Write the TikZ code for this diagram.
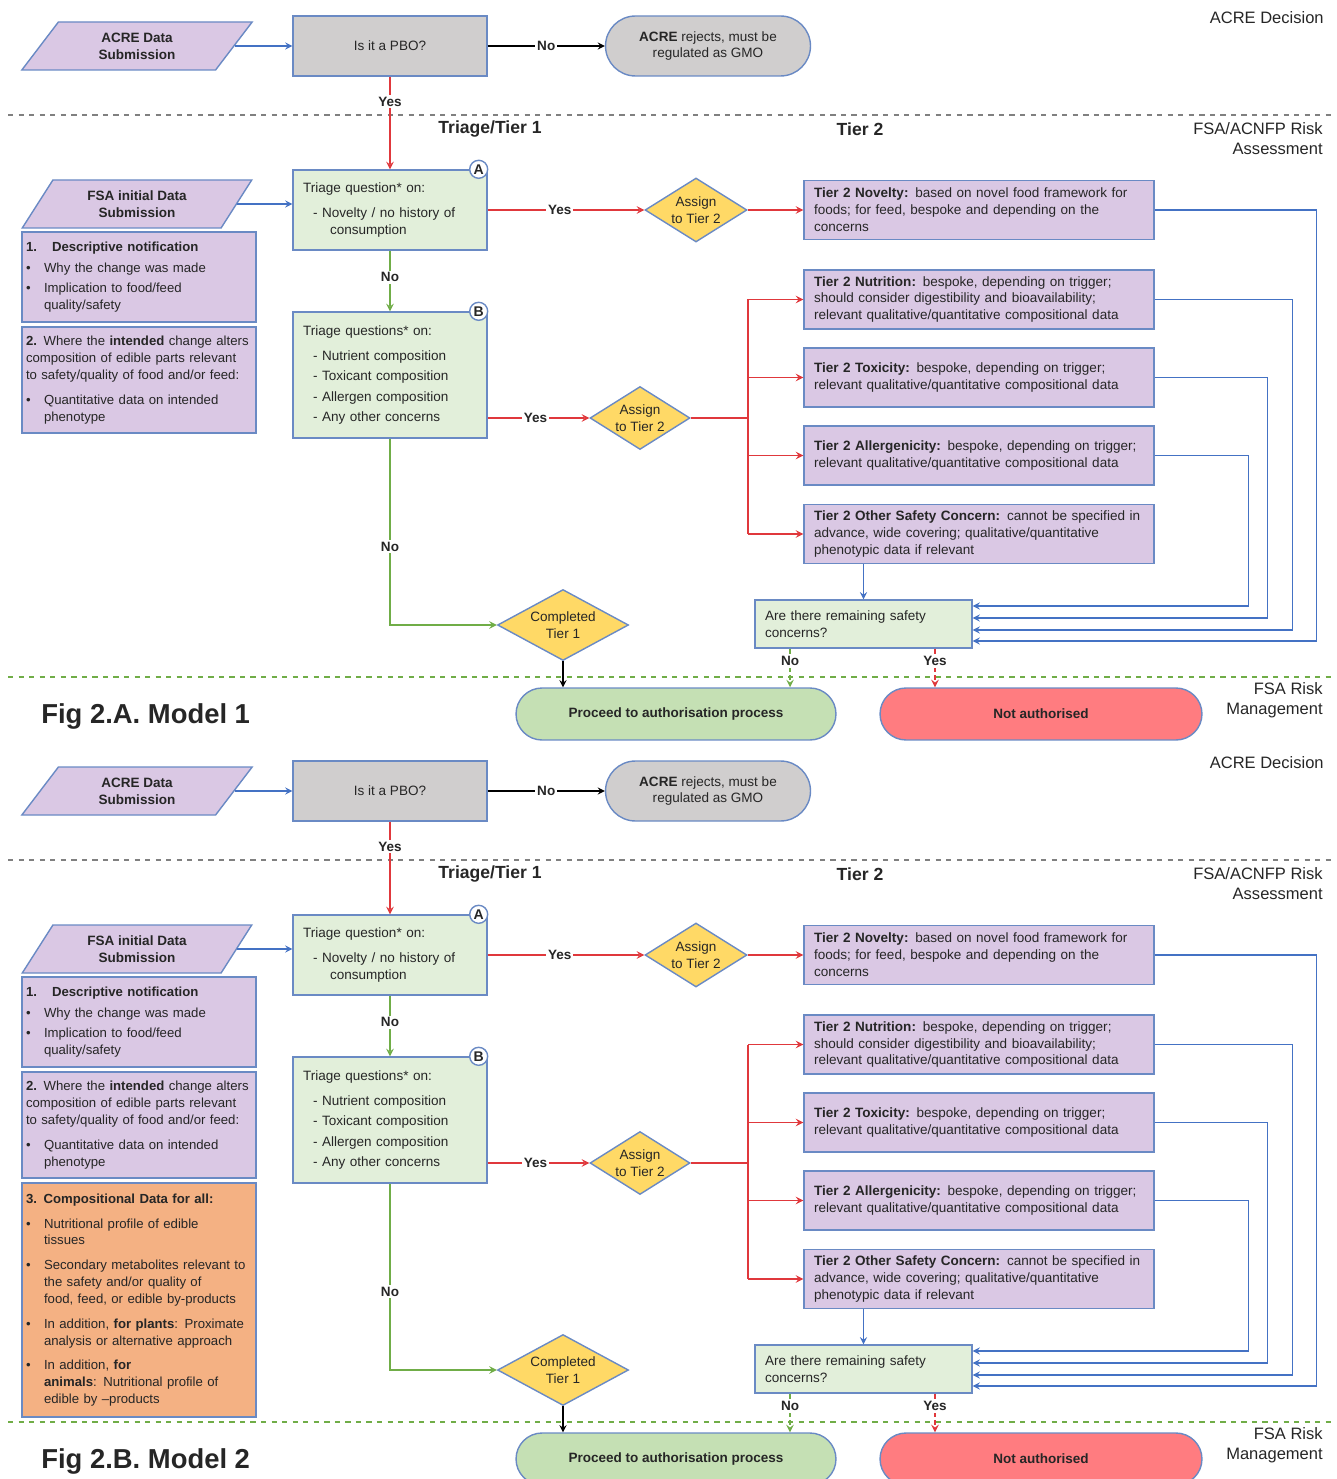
\documentclass[tikz,border=0pt]{standalone}
\usepackage{fontspec}
\setmainfont{Liberation Sans}
\usetikzlibrary{shapes.geometric}
\usepgflibrary{arrows}

\definecolor{lavfill}{HTML}{DAC8E4}
\definecolor{bord}{HTML}{6A8AC4}
\definecolor{greyfill}{HTML}{D0CECE}
\definecolor{grnfill}{HTML}{E2EFDA}
\definecolor{yelfill}{HTML}{FFD966}
\definecolor{okfill}{HTML}{C5E0B4}
\definecolor{nofill}{HTML}{FF7C80}
\definecolor{orgfill}{HTML}{F4B183}
\definecolor{redln}{HTML}{E0383C}
\definecolor{grnln}{HTML}{70AD47}
\definecolor{blueln}{HTML}{4472C4}
\definecolor{txt}{HTML}{262626}

\newcommand{\smalltxt}{\fontsize{7.7}{9.6}\selectfont}
\newcommand{\infotxt}{\fontsize{7.5}{9.6}\selectfont}
\newcommand{\sidetxt}{\fontsize{9.4}{11.3}\selectfont}
\newcommand{\bitem}[2][2.5pt]{\par\vspace{#1}\hangindent=0.36cm\hangafter=1\noindent\makebox[0.36cm][l]{\textbullet}#2\par}

\tikzset{
  subm/.style={trapezium, trapezium left angle=56, trapezium right angle=124,
    trapezium stretches=true, draw=bord, fill=lavfill, line width=0.8pt,
    minimum width=4.62cm, minimum height=0.96cm, inner sep=0pt, align=center,
    font=\smalltxt\bfseries},
  greybox/.style={draw=bord, fill=greyfill, line width=0.8pt,
    minimum width=3.88cm, minimum height=1.2cm, font=\smalltxt},
  endcap/.style={draw=bord, line width=0.8pt, rounded corners=0.52cm,
    minimum height=1.04cm, align=center, font=\smalltxt\bfseries},
  tribox/.style={draw=bord, fill=grnfill, line width=0.8pt, text width=3.48cm,
    inner xsep=0.2cm, align=left, font=\smalltxt},
  infobox/.style={draw=bord, fill=lavfill, line width=0.8pt, text width=4.52cm,
    inner xsep=0.08cm, align=left, font=\infotxt},
  tierbox/.style={draw=bord, fill=lavfill, line width=0.8pt, text width=6.6cm,
    inner xsep=0.2cm, minimum height=1.18cm, align=left, font=\smalltxt},
  choice/.style={diamond, aspect=1.6, draw=bord, fill=yelfill, line width=0.8pt,
    inner sep=0pt, align=center, font=\smalltxt},
  lettertag/.style={circle, draw=bord, fill=white, line width=0.8pt,
    minimum size=0.36cm, inner sep=0pt, font=\fontsize{8}{8}\selectfont\bfseries},
  lbl/.style={fill=white, inner sep=1pt, font=\smalltxt\bfseries},
  sidelabel/.style={align=right, inner xsep=0pt, font=\sidetxt},
  colhead/.style={font=\fontsize{10}{12}\selectfont\bfseries},
  yesarr/.style={draw=redln, line width=0.9pt, -stealth},
  noarr/.style={draw=grnln, line width=0.9pt, -stealth},
  fbarr/.style={draw=blueln, line width=0.8pt, -stealth},
  blackarr/.style={draw=black, line width=0.8pt, -stealth},
}

\begin{document}
\begin{tikzpicture}[x=0.02cm, y=-0.02cm, every node/.style={text=txt}]

\useasboundingbox (0,0) rectangle (1336,1479);

\foreach \ml/\mn/\dy in {A/1/0, B/2/745} {
\begin{scope}[shift={(0,\dy)}]

% bands
\draw[gray, dashed, line width=0.8pt] (8,115) -- (1336,115);
\draw[grnln, dashed, line width=0.8pt] (8,677) -- (1336,677);
\node[sidelabel, anchor=east] (acd\ml) at (1324,18) {ACRE Decision};
\node[sidelabel, anchor=north east] (ra\ml) at (1323,116) {FSA/ACNFP Risk\\Assessment};
\node[sidelabel, anchor=north east] (rm\ml) at (1323,676) {FSA Risk\\Management};
\node[colhead] (t1h\ml) at (490,129) {Triage/Tier 1};
\node[colhead] (t2h\ml) at (860,129) {Tier 2};
\node[anchor=west, inner sep=0pt, font=\fontsize{15.6}{18}\selectfont\bfseries] (fig\ml) at (41,716) {Fig 2.\ml. Model \mn};

% ACRE step
\node[subm] (acre\ml) at (137,46) {ACRE Data\\Submission};
\node[greybox] (pbo\ml) at (390,46) {Is it a PBO?};
\node[endcap, fill=greyfill, minimum width=4.1cm, minimum height=1.2cm,
  rounded corners=0.6cm, font=\smalltxt] (rej\ml) at (708,46)
  {\textbf{ACRE} rejects, must be\\regulated as GMO};

% triage
\node[subm] (fsa\ml) at (137,204) {FSA initial Data\\Submission};
\node[infobox, minimum height=1.8cm] (desc\ml) at (139,277)
  {\textbf{1.\hspace{0.3cm}Descriptive notification}
   \bitem{Why the change was made}
   \bitem[2pt]{Implication to food/feed\newline quality/safety}};
\node[infobox, minimum height=2.12cm] (chg\ml) at (139,380)
  {\textbf{2.} Where the \textbf{intended} change alters\newline
   composition of edible parts relevant\newline
   to safety/quality of food and/or feed:
   \bitem[4.5pt]{Quantitative data on intended\newline phenotype}};
\ifnum\mn=2
\node[infobox, fill=orgfill, minimum height=4.68cm] (comp\ml) at (139,555)
  {\textbf{3. Compositional Data for all:}
   \bitem[4.5pt]{Nutritional profile of edible\newline tissues}
   \bitem[4.5pt]{Secondary metabolites relevant to\newline the safety and/or quality of\newline food, feed, or edible by-products}
   \bitem[4.5pt]{In addition, \textbf{for plants}: Proximate\newline analysis or alternative approach}
   \bitem[4.5pt]{In addition, \textbf{for}\newline \textbf{animals}: Nutritional profile of\newline edible by --products}};
\fi
\node[tribox, minimum height=1.6cm] (triA\ml) at (390,210)
  {Triage question* on:\\[5pt]
   \hspace*{0.2cm}- Novelty / no history of\\
   \hspace*{0.54cm}consumption};
\node[tribox, minimum height=2.52cm] (triB\ml) at (390,375)
  {Triage questions* on:\\[4.5pt]
   \hspace*{0.2cm}- Nutrient composition\\[2pt]
   \hspace*{0.2cm}- Toxicant composition\\[2pt]
   \hspace*{0.2cm}- Allergen composition\\[2pt]
   \hspace*{0.2cm}- Any other concerns};
\node[lettertag] (cA\ml) at ([xshift=-0.18cm]triA\ml.north east) {A};
\node[lettertag] (cB\ml) at ([xshift=-0.18cm]triB\ml.north east) {B};
\node[choice, minimum width=2.04cm, minimum height=1.28cm] (asgA\ml) at (696,210) {Assign\\to Tier 2};
\node[choice, minimum width=2.0cm, minimum height=1.26cm] (asgB\ml) at (640,418) {Assign\\to Tier 2};
\node[choice, minimum width=2.62cm, minimum height=1.42cm] (done\ml) at (563,625) {Completed\\Tier 1};
\coordinate (split\ml) at (748,418);

% tier 2
\node[tierbox] (tN\ml) at (979,210)
  {\textbf{Tier 2 Novelty:} based on novel food framework for\\
   foods; for feed, bespoke and depending on the\\ concerns};
\node[tierbox] (tNu\ml) at (979,299.5)
  {\textbf{Tier 2 Nutrition:} bespoke, depending on trigger;\\
   should consider digestibility and bioavailability;\\
   relevant qualitative/quantitative compositional data};
\node[tierbox] (tT\ml) at (979,377.5)
  {\textbf{Tier 2 Toxicity:} bespoke, depending on trigger;\\
   relevant qualitative/quantitative compositional data};
\node[tierbox] (tA\ml) at (979,455.5)
  {\textbf{Tier 2 Allergenicity:} bespoke, depending on trigger;\\
   relevant qualitative/quantitative compositional data};
\node[tierbox] (tO\ml) at (979,534)
  {\textbf{Tier 2 Other Safety Concern:} cannot be specified in\\
   advance, wide covering; qualitative/quantitative\\
   phenotypic data if relevant};
\node[tribox, text width=3.94cm, minimum height=0.96cm] (rem\ml) at (863.5,624)
  {Are there remaining safety\\concerns?};

% outcomes
\node[endcap, fill=okfill, minimum width=6.4cm] (go\ml) at (676,714) {Proceed to authorisation process};
\node[endcap, fill=nofill, minimum width=6.44cm] (stop\ml) at (1041,714) {Not authorised};

% connectors
\draw[fbarr] (acre\ml.east) -- (acre\ml.east -| pbo\ml.west);
\draw[blackarr] (pbo\ml.east) -- node[lbl]{No} (rej\ml.west);
\draw[yesarr] (pbo\ml.south) -- node[lbl, pos=0.27]{Yes} (triA\ml.north);
\draw[fbarr] (fsa\ml.east) -- (fsa\ml.east -| triA\ml.west);
\draw[noarr] (triA\ml.south) -- node[lbl, pos=0.44]{No} (triB\ml.north);
\draw[yesarr] (triA\ml.east) -- node[lbl, pos=0.46]{Yes} (asgA\ml.west);
\draw[yesarr] (asgA\ml.east) -- (tN\ml.west);
\draw[yesarr] (triB\ml.east |- asgB\ml.west) -- node[lbl, pos=0.47]{Yes} (asgB\ml.west);
\draw[redln, line width=0.9pt] (asgB\ml.east) -- (split\ml);
\draw[redln, line width=0.9pt] (split\ml |- tNu\ml.west) -- (split\ml |- tO\ml.west);
\foreach \b in {tNu,tT,tA,tO}
  \draw[yesarr] (split\ml |- \b\ml.west) -- (\b\ml.west);
\draw[noarr] (triB\ml.south) |- node[lbl, pos=0.29]{No} (done\ml.west);
\draw[blackarr] (done\ml.south) -- (done\ml.south |- go\ml.north);
\draw[fbarr] (rem\ml.north |- tO\ml.south) -- (rem\ml.north);
\draw[fbarr] (tN\ml.east) -| ([xshift=6.88cm,yshift=-0.34cm]rem\ml.east) -- ([yshift=-0.34cm]rem\ml.east);
\draw[fbarr] (tNu\ml.east) -| ([xshift=6.4cm,yshift=-0.12cm]rem\ml.east) -- ([yshift=-0.12cm]rem\ml.east);
\draw[fbarr] (tT\ml.east) -| ([xshift=5.9cm,yshift=0.12cm]rem\ml.east) -- ([yshift=0.12cm]rem\ml.east);
\draw[fbarr] (tA\ml.east) -| ([xshift=5.52cm,yshift=0.36cm]rem\ml.east) -- ([yshift=0.36cm]rem\ml.east);
\coordinate (noA\ml) at ([xshift=-1.47cm]rem\ml.south);
\coordinate (yesA\ml) at ([xshift=1.43cm]rem\ml.south);
\draw[noarr, densely dashed] (noA\ml) -- node[lbl, pos=0.32]{No} (noA\ml |- go\ml.north);
\draw[yesarr, densely dashed] (yesA\ml) -- node[lbl, pos=0.32]{Yes} (yesA\ml |- stop\ml.north);

\end{scope}
}

\end{tikzpicture}
\end{document}
